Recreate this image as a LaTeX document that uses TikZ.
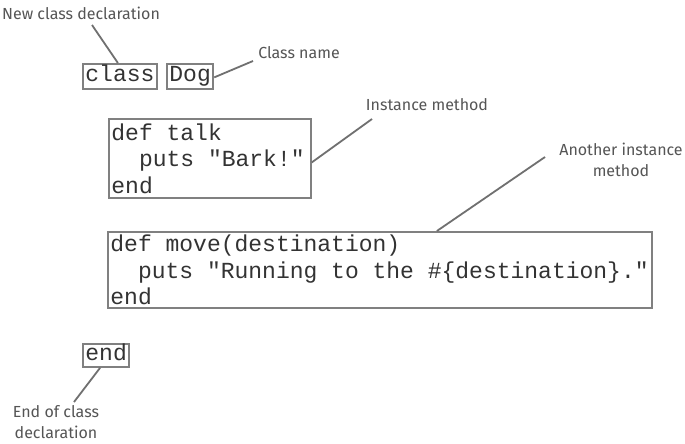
\documentclass[tikz,border=0pt]{standalone}
\usepackage{fontspec}
\setmainfont{Fira Sans}
\setmonofont{Liberation Mono}
\definecolor{boxgray}{HTML}{808080}
\definecolor{linegray}{HTML}{707070}
\definecolor{labgray}{HTML}{555555}
\definecolor{codeblack}{HTML}{333333}
\newcommand{\csp}{\hphantom{x}}
\newcommand{\ind}{\hphantom{xx}}
\begin{document}
\begin{tikzpicture}[x=1pt,y=-1pt,
  code/.style={draw=boxgray, line width=1.8pt, font=\ttfamily\fontsize{23}{26.5}\selectfont,
    text=codeblack, inner xsep=2.5pt, inner ysep=0pt, align=left, anchor=north west},
  one/.style={code, text height=16pt, text depth=5pt},
  lbl/.style={font=\fontsize{16}{21}\selectfont, text=labgray, inner sep=0pt},
  conn/.style={draw=linegray, line width=1.8pt}]
\fill[white] (0,0) rectangle (685,444);
\useasboundingbox (0,0) rectangle (685,444);
% code boxes
\node[one, minimum width=71pt, minimum height=25pt] (cls) at (82,63) {class};
\node[one, minimum width=43pt, minimum height=25pt] (dog) at (166,63) {Dog};
\node[code, text width=197pt, minimum height=79pt] (talk) at (108,118)
  {def\csp{}talk\\\ind{}puts\csp"Bark!"\\end};
\node[code, text width=539pt, minimum height=76pt] (move) at (107,231)
  {def\csp{}move(destination)\\\ind{}puts\csp"Running\csp{}to\csp{}the\csp\#\{destination\}."\\end};
\node[one, minimum width=46pt, minimum height=23pt] (endk) at (82,343) {end};
% labels
\node[lbl] (newcls) at (81,13) {New class declaration};
\node[lbl] (clsname) at (299,53) {Class name};
\node[lbl] (inst) at (427,105) {Instance method};
\node[lbl, align=center] (another) at (621,160) {Another instance\\method};
\node[lbl, align=center] (endcls) at (56,422) {End of class\\declaration};
% connector ends
\coordinate (c1) at (92,25);
\coordinate (c2) at (253,61);
\coordinate (c3) at (372,119);
\coordinate (c4) at (545,157);
\coordinate (c5) at (74,402);
\draw[conn] ([xshift=-2pt]cls.north) -- (c1);
\draw[conn] ([yshift=-1pt]dog.east) -- (c2);
\draw[conn] ([yshift=-4pt]talk.east) -- (c3);
\draw[conn] ([xshift=57pt]move.north) -- (c4);
\draw[conn] ([xshift=-6pt]endk.south) -- (c5);
\end{tikzpicture}
\end{document}
